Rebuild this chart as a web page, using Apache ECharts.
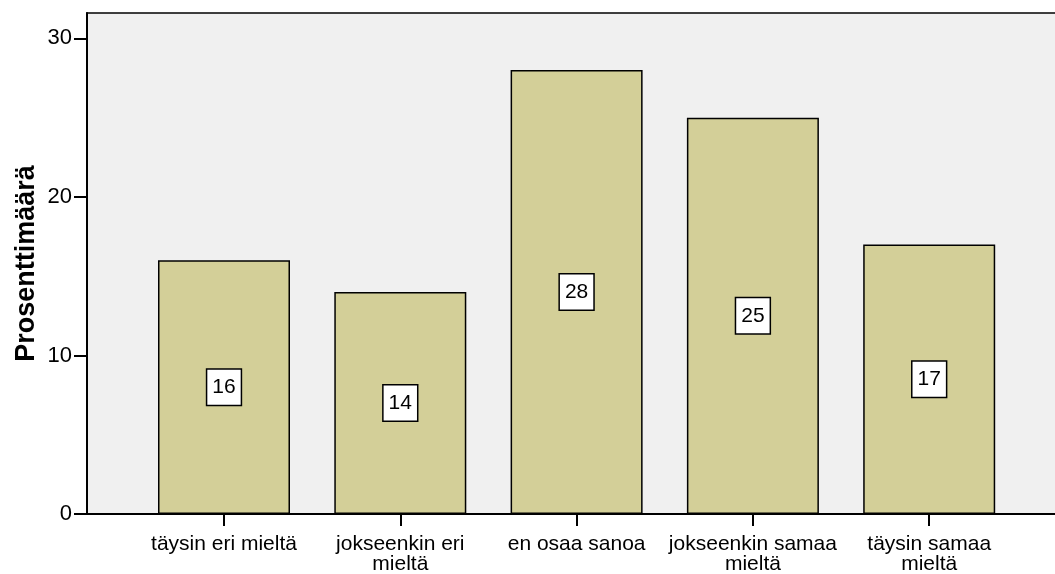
<!DOCTYPE html>
<html>
<head>
<meta charset="utf-8">
<script src="https://cdn.jsdelivr.net/npm/echarts@6/dist/echarts.min.js"></script>
<style>html,body{margin:0;padding:0;background:#fff}#c{width:1055px;height:574px}</style>
</head>
<body>
<div id="c"></div>
<script>
const categories = ['täysin eri mieltä', 'jokseenkin eri\nmieltä', 'en osaa sanoa', 'jokseenkin samaa\nmieltä', 'täysin samaa\nmieltä'];
const values = [16, 14, 28, 25, 17];
const yTicks = [0, 10, 20, 30];

const chart = echarts.init(document.getElementById('c'));
const font = 'Liberation Sans, Arial, sans-serif';
chart.setOption({
  animation: false,
  grid: [
    {left: 87, top: 13, width: 1000, bottom: 60, show: true, backgroundColor: '#f0f0f0', borderColor: '#000', borderWidth: 1.5, outerBoundsMode: 'none', containLabel: false},
    {left: 135.85, top: 13, width: 881.5, bottom: 60, outerBoundsMode: 'none', containLabel: false}
  ],
  xAxis: [
    {gridIndex: 0, type: 'value', min: 0, max: 1, show: true, axisLine: {show: true, lineStyle: {color: '#000', width: 2}}, axisTick: {show: false}, axisLabel: {show: false}, splitLine: {show: false}},
    {gridIndex: 1, type: 'category', data: categories, axisLine: {show: false},
     axisTick: {show: true, alignWithLabel: true, length: 12, lineStyle: {color: '#000', width: 2}},
     axisLabel: {color: '#000', fontFamily: font, fontSize: 21, lineHeight: 20, margin: 20, interval: 0}}
  ],
  yAxis: [
    {gridIndex: 0, type: 'value', min: 0, max: 31.6,
     name: 'Prosenttimäärä', nameLocation: 'middle', nameGap: 47, nameMoveOverlap: false,
     nameTextStyle: {color: '#000', fontFamily: font, fontSize: 27, fontWeight: 'bold'},
     axisLine: {show: true, lineStyle: {color: '#000', width: 2}},
     axisTick: {show: true, length: 13, customValues: yTicks, lineStyle: {color: '#000', width: 2}},
     axisLabel: {color: '#000', fontFamily: font, fontSize: 22, margin: 15, customValues: yTicks},
     splitLine: {show: false}},
    {gridIndex: 1, type: 'value', min: 0, max: 31.6, show: false}
  ],
  series: [{
    type: 'bar', xAxisIndex: 1, yAxisIndex: 1, data: values, barWidth: 132,
    itemStyle: {color: '#d3cf98', borderColor: '#000', borderWidth: 1.5},
    label: {show: true, position: 'inside', color: '#000', fontFamily: font, fontSize: 21, lineHeight: 21,
      backgroundColor: '#fff', borderColor: '#000', borderWidth: 1.5, padding: [7, 5, 7, 5]}
  }]
});
</script>
</body>
</html>
